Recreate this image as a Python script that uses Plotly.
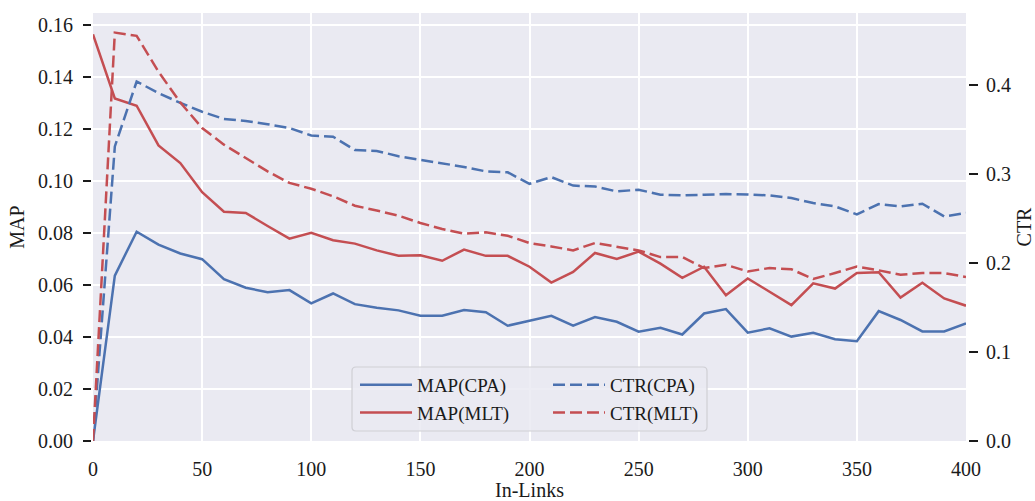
import plotly.graph_objects as go

in_links = [0, 10, 20, 30, 40, 50, 60, 70, 80, 90, 100, 110, 120, 130, 140, 150, 160, 170, 180, 190,
            200, 210, 220, 230, 240, 250, 260, 270, 280, 290, 300, 310, 320, 330, 340, 350, 360, 370, 380, 390, 400]

map_cpa = [0.000, 0.0637, 0.0806, 0.0756, 0.0722, 0.0700, 0.0623, 0.0590, 0.0573, 0.0581, 0.0530,
           0.0568, 0.0527, 0.0513, 0.0503, 0.0482, 0.0482, 0.0504, 0.0496, 0.0444, 0.0463,
           0.0482, 0.0444, 0.0477, 0.0459, 0.0421, 0.0436, 0.0410, 0.0491, 0.0508, 0.0417,
           0.0434, 0.0402, 0.0417, 0.0392, 0.0384, 0.0500, 0.0466, 0.0422, 0.0422, 0.0453]
map_mlt = [0.1566, 0.1319, 0.1291, 0.1138, 0.1070, 0.0958, 0.0883, 0.0878, 0.0828, 0.0779, 0.0802,
           0.0773, 0.0760, 0.0734, 0.0713, 0.0715, 0.0694, 0.0737, 0.0713, 0.0713, 0.0671,
           0.0610, 0.0651, 0.0724, 0.0701, 0.0729, 0.0683, 0.0628, 0.0671, 0.0561, 0.0626,
           0.0575, 0.0523, 0.0607, 0.0587, 0.0647, 0.0650, 0.0552, 0.0609, 0.0549, 0.0521]
ctr_cpa = [0.0, 0.331, 0.404, 0.391, 0.380, 0.370, 0.362, 0.3596, 0.356, 0.3517, 0.3434,
           0.342, 0.327, 0.326, 0.320, 0.316, 0.3124, 0.308, 0.303, 0.302, 0.289,
           0.2966, 0.287, 0.286, 0.2805, 0.2824, 0.2768, 0.276, 0.2768, 0.2775, 0.277,
           0.276, 0.273, 0.2674, 0.2637, 0.2547, 0.2663, 0.2637, 0.2667, 0.2524, 0.2562]
ctr_mlt = [0.0, 0.459, 0.4554, 0.415, 0.3805, 0.3517, 0.333, 0.318, 0.303, 0.290, 0.2835,
           0.275, 0.2644, 0.259, 0.2532, 0.245, 0.2382, 0.233, 0.2345, 0.2307, 0.2225,
           0.2187, 0.2142, 0.2225, 0.2187, 0.2142, 0.2067, 0.2067, 0.1944, 0.198, 0.1906,
           0.1944, 0.193, 0.182, 0.1888, 0.196, 0.1918, 0.1869, 0.1888, 0.1888, 0.1843]

map_ticks = [0.00, 0.02, 0.04, 0.06, 0.08, 0.10, 0.12, 0.14, 0.16]
ctr_ticks = [0.0, 0.1, 0.2, 0.3, 0.4]
x_ticks = [0, 50, 100, 150, 200, 250, 300, 350, 400]

BLUE = "#4C72B0"
RED = "#C44E52"
BG = "#EAEAF2"
TXT = "#1a1a1a"
FONT = "Liberation Serif"
DASH = "12px,5px"

W, H = 1035, 501
ML, MR, MT, MB = 91, 67, 13, 60
PW = W - ML - MR
PH = H - MT - MB


def px_x(p):
    return (p - ML) / PW


def px_y(p):
    return (H - MB - p) / PH


fig = go.Figure()
fig.add_trace(go.Scatter(x=in_links, y=map_cpa, name="MAP(CPA)", mode="lines",
                         line=dict(color=BLUE, width=2.5), legend="legend"))
fig.add_trace(go.Scatter(x=in_links, y=map_mlt, name="MAP(MLT)", mode="lines",
                         line=dict(color=RED, width=2.5), legend="legend"))
fig.add_trace(go.Scatter(x=in_links, y=ctr_cpa, name="CTR(CPA)", mode="lines", yaxis="y2",
                         line=dict(color=BLUE, width=2.5, dash=DASH), legend="legend2"))
fig.add_trace(go.Scatter(x=in_links, y=ctr_mlt, name="CTR(MLT)", mode="lines", yaxis="y2",
                         line=dict(color=RED, width=2.5, dash=DASH), legend="legend2"))

# legend frame
x0, x1 = px_x(352), px_x(707)
y0, y1 = px_y(431), px_y(367)
rx, ry = 4 / PW, 4 / PH
path = (f"M{x0+rx},{y0} L{x1-rx},{y0} Q{x1},{y0} {x1},{y0+ry} L{x1},{y1-ry} Q{x1},{y1} {x1-rx},{y1} "
        f"L{x0+rx},{y1} Q{x0},{y1} {x0},{y1-ry} L{x0},{y0+ry} Q{x0},{y0} {x0+rx},{y0} Z")
fig.add_shape(type="path", path=path, xref="paper", yref="paper",
              fillcolor="rgba(234,234,242,0.85)", line=dict(color="#cfcfd4", width=1.2), layer="above")

legend_common = dict(bgcolor="rgba(0,0,0,0)", borderwidth=0, font=dict(family=FONT, size=19, color=TXT),
                     orientation="v", itemwidth=52, yanchor="top", xanchor="left", tracegroupgap=0)

fig.update_layout(
    width=W, height=H,
    margin=dict(l=ML, r=MR, t=MT, b=MB, autoexpand=False),
    paper_bgcolor="white",
    plot_bgcolor=BG,
    font=dict(family=FONT, size=20, color=TXT),
    showlegend=True,
    legend=dict(x=px_x(355), y=px_y(366), **legend_common),
    legend2=dict(x=px_x(548), y=px_y(366), **legend_common),
    xaxis=dict(
        domain=[px_x(93), px_x(966)],
        range=[0, 400], tickvals=x_ticks, ticks="", showline=False, zeroline=False,
        showgrid=True, gridcolor="white", gridwidth=1.7,
        tickfont=dict(family=FONT, size=20, color=TXT), ticklabelstandoff=14,
        title=dict(text="In-Links", font=dict(family=FONT, size=20, color=TXT), standoff=15),
    ),
    yaxis=dict(
        range=[0, 0.1648], tickvals=map_ticks, tickformat=".2f",
        anchor="free", position=0, side="left",
        ticks="outside", ticklen=8, tickwidth=2, tickcolor=TXT,
        showline=False, zeroline=False, showgrid=True, gridcolor="white", gridwidth=1.7,
        tickfont=dict(family=FONT, size=20, color=TXT), ticklabelstandoff=6,
        title=dict(text="MAP", font=dict(family=FONT, size=20, color=TXT), standoff=7),
    ),
    yaxis2=dict(
        range=[0, 0.481], tickvals=ctr_ticks, tickformat=".1f",
        overlaying="y", anchor="free", position=1, side="right",
        ticks="outside", ticklen=9, tickwidth=2, tickcolor=TXT,
        showline=False, zeroline=False, showgrid=False,
        tickfont=dict(family=FONT, size=20, color=TXT), ticklabelstandoff=4,
        title=dict(text="CTR", font=dict(family=FONT, size=20, color=TXT), standoff=13),
    ),
)

fig.write_html("out.html")
